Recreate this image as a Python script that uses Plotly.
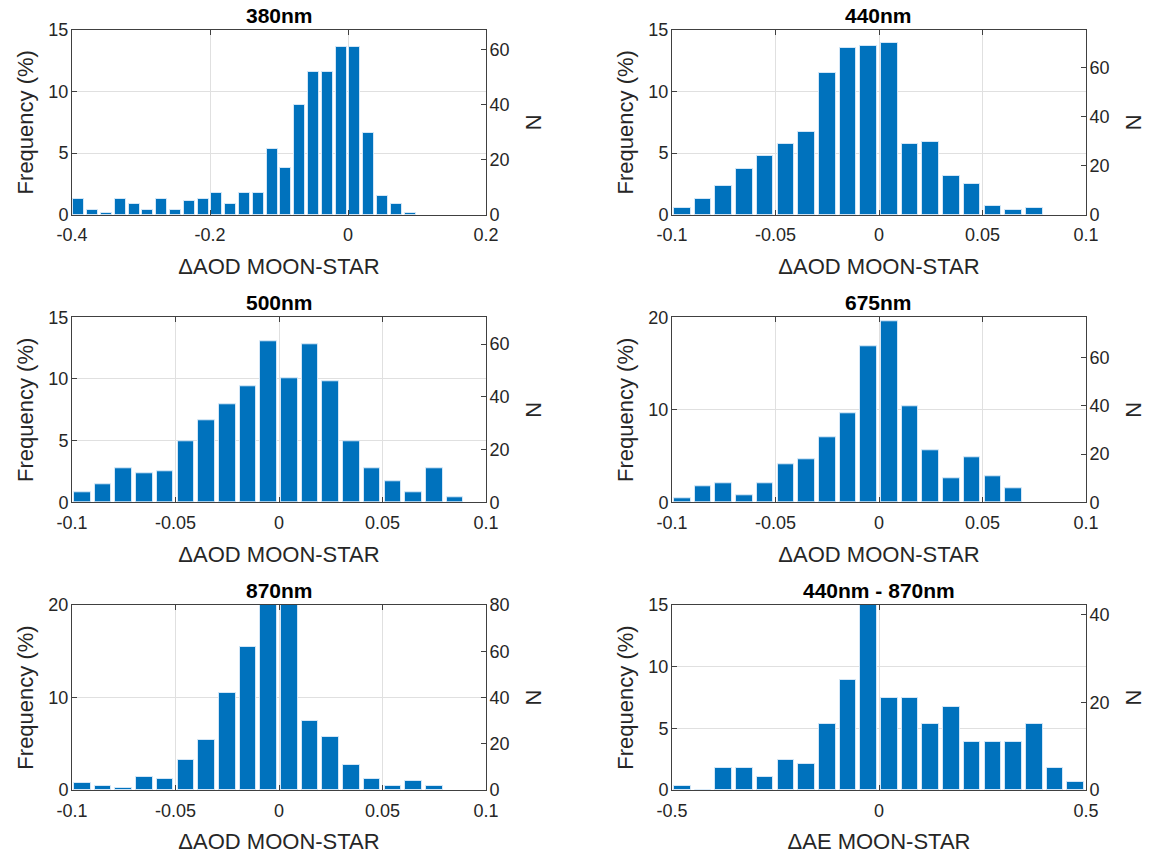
import plotly.graph_objects as go

# ---------------- data ----------------
titles = ["380nm", "440nm", "500nm", "675nm", "870nm", "440nm - 870nm"]
xtitles = ["\u0394AOD MOON-STAR"] * 5 + ["\u0394AE MOON-STAR"]

# bin centres
centers_380 = [round(-0.39 + 0.02 * i, 3) for i in range(25)]
freq_380 = [1.25, 0.35, 0.16, 1.25, 0.84, 0.35, 1.25, 0.35, 1.06, 1.25,
            1.71, 0.84, 1.71, 1.71, 5.33, 3.75, 8.89, 11.58, 11.58, 13.61,
            13.61, 6.63, 1.49, 0.84, 0.16]

centers_440 = [round(-0.095 + 0.01 * i, 3) for i in range(18)]
freq_440 = [0.52, 1.30, 2.33, 3.72, 4.72, 5.72, 6.73, 11.53, 13.51, 13.72,
            13.91, 5.72, 5.91, 3.12, 2.52, 0.73, 0.33, 0.52]

centers_500 = [round(-0.095 + 0.01 * i, 3) for i in range(19)]
freq_500 = [0.81, 1.49, 2.76, 2.32, 2.54, 4.92, 6.62, 7.92, 9.41, 13.05,
            10.05, 12.84, 9.84, 4.92, 2.76, 1.68, 0.81, 2.76, 0.38]

centers_675 = [round(-0.095 + 0.01 * i, 3) for i in range(17)]
freq_675 = [0.47, 1.77, 2.05, 0.72, 2.05, 4.11, 4.65, 7.03, 9.59, 16.90,
            19.53, 10.38, 5.66, 2.56, 4.90, 2.81, 1.51]

centers_870 = [round(-0.095 + 0.01 * i, 3) for i in range(18)]
freq_870 = [0.72, 0.47, 0.25, 1.44, 1.23, 3.24, 5.44, 10.45, 15.42, 21.4,
            21.0, 7.42, 5.69, 2.70, 1.23, 0.47, 0.97, 0.47]

centers_ae = [round(-0.475 + 0.05 * i, 3) for i in range(20)]
freq_ae = [0.30, 0.0, 1.75, 1.75, 1.04, 2.47, 2.11, 5.32, 8.88, 14.96,
           7.45, 7.45, 5.32, 6.74, 3.89, 3.89, 3.89, 5.32, 1.75, 0.66]

centers = [centers_380, centers_440, centers_500, centers_675, centers_870, centers_ae]
freqs = [freq_380, freq_440, freq_500, freq_675, freq_870, freq_ae]
bin_widths = [0.02, 0.01, 0.01, 0.01, 0.01, 0.05]
n_total = [447, 501, 468, 383, 400, 281]

x_ranges = [[-0.4, 0.2], [-0.1, 0.1], [-0.1, 0.1], [-0.1, 0.1], [-0.1, 0.1], [-0.5, 0.5]]
x_ticks = [[-0.4, -0.2, 0, 0.2], [-0.1, -0.05, 0, 0.05, 0.1], [-0.1, -0.05, 0, 0.05, 0.1],
           [-0.1, -0.05, 0, 0.05, 0.1], [-0.1, -0.05, 0, 0.05, 0.1], [-0.5, 0, 0.5]]
x_ticktext = [["-0.4", "-0.2", "0", "0.2"], ["-0.1", "-0.05", "0", "0.05", "0.1"],
              ["-0.1", "-0.05", "0", "0.05", "0.1"], ["-0.1", "-0.05", "0", "0.05", "0.1"],
              ["-0.1", "-0.05", "0", "0.05", "0.1"], ["-0.5", "0", "0.5"]]
y_max = [15, 15, 15, 20, 20, 15]
y_ticks = [[0, 5, 10, 15], [0, 5, 10, 15], [0, 5, 10, 15], [0, 10, 20], [0, 10, 20], [0, 5, 10, 15]]
n_ticks = [[0, 20, 40, 60], [0, 20, 40, 60], [0, 20, 40, 60], [0, 20, 40, 60],
           [0, 20, 40, 60, 80], [0, 20, 40]]

# ---------------- layout geometry ----------------
W, H = 1153, 855
col_px = [(72, 486), (672, 1086)]
row_px = [(30, 214.5), (317.3, 502.3), (605, 790)]

FONT = "Liberation Sans, Arial, Helvetica, sans-serif"
TXT = "#262626"
AX = "#404040"
GRID = "#e0e0e0"
BAR = "#0072BD"

fig = go.Figure()
layout = dict(
    width=W, height=H, margin=dict(l=0, r=0, t=0, b=0, autoexpand=False),
    paper_bgcolor="white", plot_bgcolor="white", showlegend=False,
    font=dict(family=FONT, color=TXT, size=18),
    bargap=0,
)
annotations = []

for i in range(6):
    r, c = divmod(i, 2)
    x0, x1 = col_px[c]
    ytop, ybot = row_px[r]
    xd = [x0 / W, x1 / W]
    yd = [1 - ybot / H, 1 - ytop / H]
    xa = "x" if i == 0 else f"x{i+1}"
    ya = "y" if i == 0 else f"y{i+1}"
    ya2 = f"y{i+7}"

    fig.add_trace(go.Bar(
        x=centers[i], y=freqs[i], width=bin_widths[i] * 0.8,
        marker=dict(color=BAR, line=dict(color="rgba(220,235,250,0.9)", width=1)),
        xaxis=xa, yaxis=ya, hoverinfo="x+y"))
    # empty trace to register the right-hand N axis
    fig.add_trace(go.Scatter(x=[None], y=[None], xaxis=xa, yaxis=ya2,
                             mode="markers", hoverinfo="skip"))

    layout["xaxis" if i == 0 else f"xaxis{i+1}"] = dict(
        domain=xd, anchor=ya, range=x_ranges[i], automargin=False,
        tickmode="array", tickvals=x_ticks[i], ticktext=x_ticktext[i],
        ticks="inside", ticklen=5, tickcolor=AX, tickwidth=1,
        ticklabelstandoff=4,
        showline=True, linecolor=AX, linewidth=1, mirror="ticks",
        showgrid=True, gridcolor=GRID, gridwidth=1, zeroline=False,
        tickfont=dict(size=18, color=TXT),
        title=dict(text=xtitles[i], font=dict(size=22, color=TXT), standoff=14),
    )
    layout["yaxis" if i == 0 else f"yaxis{i+1}"] = dict(
        domain=yd, anchor=xa, range=[0, y_max[i]], automargin=False,
        tickmode="array", tickvals=y_ticks[i],
        ticks="inside", ticklen=5, tickcolor=AX, tickwidth=1,
        ticklabelstandoff=-1,
        showline=True, linecolor=AX, linewidth=1, mirror=False,
        showgrid=True, gridcolor=GRID, gridwidth=1, zeroline=False,
        tickfont=dict(size=18, color=TXT),
        title=dict(text="Frequency (%)", font=dict(size=22, color=TXT), standoff=8),
    )
    layout[f"yaxis{i+7}"] = dict(
        overlaying=ya, side="right", anchor=xa, automargin=False,
        range=[0, y_max[i] * n_total[i] / 100.0],
        tickmode="array", tickvals=n_ticks[i],
        ticks="inside", ticklen=5, tickcolor=AX, tickwidth=1,
        ticklabelstandoff=-1,
        showline=True, linecolor=AX, linewidth=1,
        showgrid=False, zeroline=False,
        tickfont=dict(size=18, color=TXT),
        title=dict(text="N", font=dict(size=22, color=TXT), standoff=16),
    )
    annotations.append(dict(
        text=f"<b>{titles[i]}</b>", x=(xd[0] + xd[1]) / 2, y=yd[1],
        xref="paper", yref="paper", xanchor="center", yanchor="bottom",
        yshift=1, showarrow=False, font=dict(size=21, color="black", family=FONT)))

layout["annotations"] = annotations
fig.update_layout(**layout)
fig.write_html("out.html")
